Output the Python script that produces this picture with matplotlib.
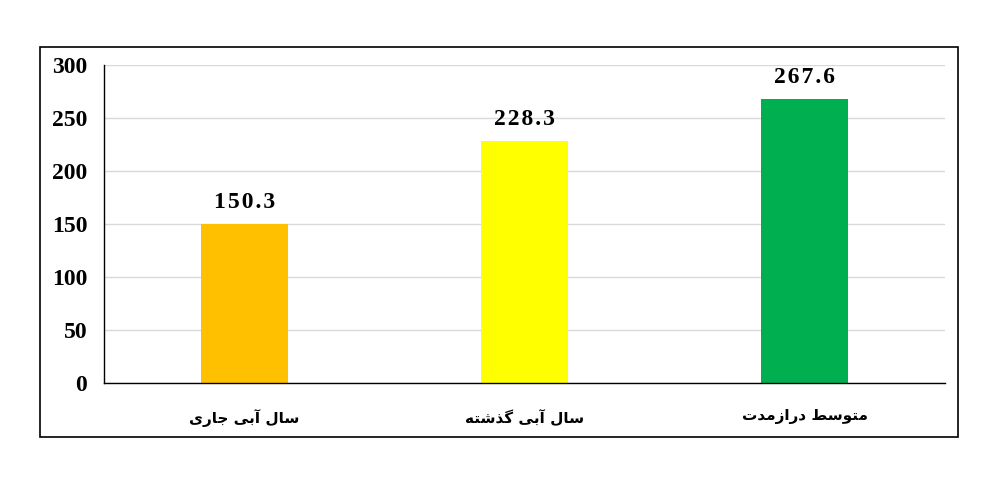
import matplotlib
matplotlib.use("Agg")
import matplotlib.pyplot as plt
from matplotlib.patches import Rectangle

# ---- data ----
categories = ["سال آبی جاری", "سال آبی گذشته", "متوسط درازمدت"]
values = [150.3, 228.3, 267.6]
bar_colors = ["#FFC000", "#FFFF00", "#00B050"]
yticks = [0, 50, 100, 150, 200, 250, 300]

# ---- minimal Arabic/Persian shaping (isolated, final, initial, medial) ----
FORMS = {
    "\u0627": ("\uFE8D", "\uFE8E", None, None),      # alef
    "\u0622": ("\uFE81", "\uFE82", None, None),      # alef madda
    "\u0628": ("\uFE8F", "\uFE90", "\uFE91", "\uFE92"),  # beh
    "\u062A": ("\uFE95", "\uFE96", "\uFE97", "\uFE98"),  # teh
    "\u062C": ("\uFE9D", "\uFE9E", "\uFE9F", "\uFEA0"),  # jeem
    "\u062F": ("\uFEA9", "\uFEAA", None, None),      # dal
    "\u0630": ("\uFEAB", "\uFEAC", None, None),      # thal
    "\u0631": ("\uFEAD", "\uFEAE", None, None),      # reh
    "\u0632": ("\uFEAF", "\uFEB0", None, None),      # zain
    "\u0633": ("\uFEB1", "\uFEB2", "\uFEB3", "\uFEB4"),  # seen
    "\u0634": ("\uFEB5", "\uFEB6", "\uFEB7", "\uFEB8"),  # sheen
    "\u0637": ("\uFEC1", "\uFEC2", "\uFEC3", "\uFEC4"),  # tah
    "\u0644": ("\uFEDD", "\uFEDE", "\uFEDF", "\uFEE0"),  # lam
    "\u0645": ("\uFEE1", "\uFEE2", "\uFEE3", "\uFEE4"),  # meem
    "\u0647": ("\uFEE9", "\uFEEA", "\uFEEB", "\uFEEC"),  # heh
    "\u0648": ("\uFEED", "\uFEEE", None, None),      # waw
    "\u06CC": ("\uFBFC", "\uFBFD", "\uFBFE", "\uFBFF"),  # farsi yeh
    "\u06AF": ("\uFB92", "\uFB93", "\uFB94", "\uFB95"),  # gaf
}


def shape(text):
    out = []
    n = len(text)
    for i, ch in enumerate(text):
        if ch not in FORMS:
            out.append(ch)
            continue
        prev = text[i - 1] if i > 0 else None
        nxt = text[i + 1] if i < n - 1 else None
        jp = prev in FORMS and FORMS[prev][2] is not None
        jn = nxt in FORMS and FORMS[ch][2] is not None
        iso, fin, ini, med = FORMS[ch]
        if jp and jn:
            out.append(med)
        elif jp:
            out.append(fin)
        elif jn:
            out.append(ini)
        else:
            out.append(iso)
    return "".join(out)[::-1]


W, H = 1003, 479
fig = plt.figure(figsize=(W / 100, H / 100), dpi=100)
fig.patch.set_facecolor("white")

# outer frame
fig.patches.append(Rectangle((40 / W, 1 - 437 / H), (958 - 40) / W, (437 - 47) / H,
                             transform=fig.transFigure, fill=False,
                             edgecolor="black", linewidth=1.2))

ax = fig.add_axes([104 / W, 1 - 383 / H, (945 - 104) / W, (383 - 65) / H])
x = list(range(len(categories)))
ax.bar(x, values, width=0.31, color=bar_colors, zorder=2)
ax.set_xlim(-0.5, len(categories) - 0.5)
ax.set_ylim(0, 300)
ax.set_yticks(yticks)
ax.set_yticklabels([str(t) for t in yticks], fontfamily="Liberation Serif",
                   fontweight="bold", fontsize=17)
ax.tick_params(axis="y", length=0, pad=12)
ax.tick_params(axis="x", length=0, pad=19)
ax.set_xticks(x)
ax.set_xticklabels([shape(c) for c in categories], fontfamily="DejaVu Sans",
                   fontweight="bold", fontsize=11)
ax.grid(axis="y", color="#d9d9d9", linewidth=1, zorder=0)
ax.set_axisbelow(True)
for s in ("top", "right"):
    ax.spines[s].set_visible(False)
ax.spines["left"].set_linewidth(1)
ax.spines["bottom"].set_linewidth(1)

for xi, v in zip(x, values):
    label = "\u200a".join(f"{v:.1f}")
    ax.annotate(label, (xi, v), xytext=(0, 8), textcoords="offset points",
                ha="center", va="bottom", fontfamily="Liberation Serif",
                fontweight="bold", fontsize=17)

fig.savefig("out.png", dpi=100, facecolor="white")
